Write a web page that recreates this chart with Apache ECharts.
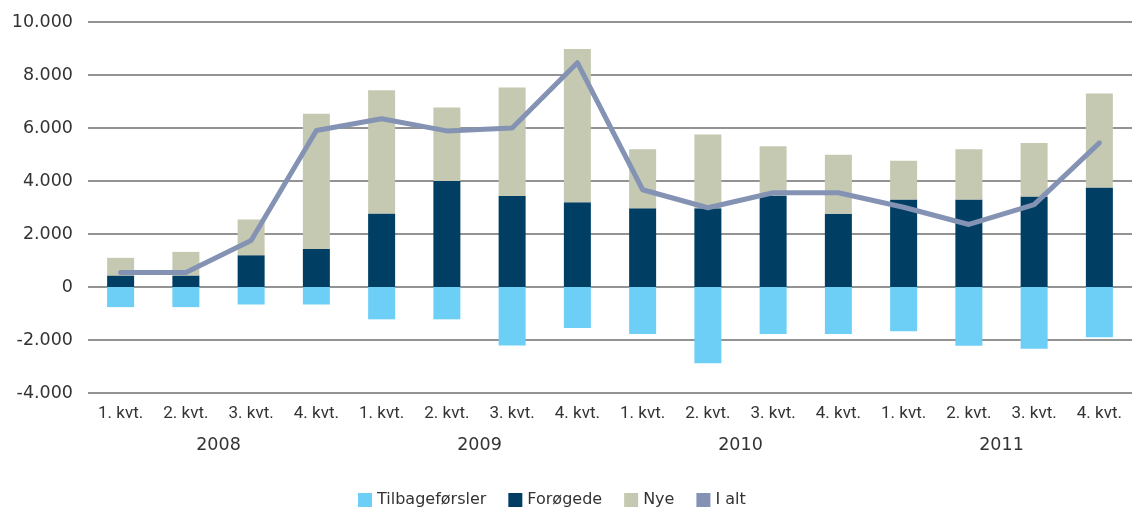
<!DOCTYPE html>
<html>
<head>
<meta charset="utf-8">
<script src="https://cdn.jsdelivr.net/npm/echarts@6/dist/echarts.min.js"></script>
<style>
  html, body { margin: 0; padding: 0; background: #fff; }
  #chart { width: 1132px; height: 510px; }
</style>
</head>
<body>
<div id="chart"></div>
<script>
// kvartaler og år
const quarters = ["1. kvt.", "2. kvt.", "3. kvt.", "4. kvt.",
  "1. kvt.", "2. kvt.", "3. kvt.", "4. kvt.",
  "1. kvt.", "2. kvt.", "3. kvt.", "4. kvt.",
  "1. kvt.", "2. kvt.", "3. kvt.", "4. kvt."];
const years = ["2008", "2009", "2010", "2011"];

// serier
const tilbageforsler = [-760, -760, -660, -660, -1220, -1220, -2210, -1550,
  -1770, -2875, -1770, -1770, -1670, -2220, -2330, -1895];
const forogede = [435, 435, 1200, 1430, 2770, 4000, 3430, 3195,
  2970, 2970, 3450, 2760, 3300, 3300, 3415, 3755];
const nye = [665, 890, 1350, 5105, 4650, 2770, 4100, 5785,
  2230, 2785, 1860, 2230, 1460, 1900, 2015, 3545];
const iAlt = [550, 550, 1755, 5905, 6350, 5890, 6000, 8465,
  3670, 2990, 3555, 3555, 3010, 2360, 3110, 5440];

const fontFamily = "'DejaVu Sans', sans-serif";

let myChart = echarts.init(document.getElementById("chart"));
myChart.setOption({
  animation: false,
  textStyle: { fontFamily: fontFamily },
  color: ["#6dcff6", "#003f63", "#c5c9b1", "#8493b3"],
  grid: {
    left: 88,
    right: 0,
    top: 22,
    bottom: 117,
  },
  legend: {
    bottom: 2,
    left: 353,
    padding: [0, 5],
    itemWidth: 14,
    itemHeight: 14,
    itemGap: 22,
    icon: "rect",
    textStyle: { fontSize: 16, color: "#333", fontFamily: fontFamily },
    data: ["Tilbageførsler", "Forøgede", "Nye", "I alt"],
  },
  xAxis: [
    {
      type: "category",
      data: quarters,
      axisLine: { show: false },
      axisTick: { show: false },
      axisLabel: {
        fontSize: 17,
        color: "#333",
        margin: 12,
        interval: 0,
        fontFamily: "Roboto, sans-serif",
      },
    },
    {
      type: "category",
      data: years,
      position: "bottom",
      offset: 30,
      axisLine: { show: false },
      axisTick: { show: false },
      axisLabel: { fontSize: 17.5, color: "#333", margin: 13 },
    },
  ],
  yAxis: {
    type: "value",
    min: -4000,
    max: 10000,
    interval: 2000,
    axisLine: { show: false },
    axisTick: { show: false },
    axisLabel: {
      fontSize: 17.5,
      color: "#333",
      margin: 15,
      formatter: (v) => String(v).replace(/\B(?=(\d{3})+(?!\d))/g, "."),
    },
    splitLine: { lineStyle: { color: "#6f6f6f", width: 1.5 } },
  },
  series: [
    {
      name: "Tilbageførsler",
      type: "bar",
      stack: "total",
      barWidth: 27,
      data: tilbageforsler,
    },
    {
      name: "Forøgede",
      type: "bar",
      stack: "total",
      barWidth: 27,
      data: forogede,
    },
    {
      name: "Nye",
      type: "bar",
      stack: "total",
      barWidth: 27,
      data: nye,
    },
    {
      name: "I alt",
      type: "line",
      data: iAlt,
      symbol: "none",
      lineStyle: { width: 5, cap: "round", join: "round" },
      z: 5,
    },
  ],
});

window.addEventListener("resize", () => {
  myChart.resize();
});
</script>
</body>
</html>
